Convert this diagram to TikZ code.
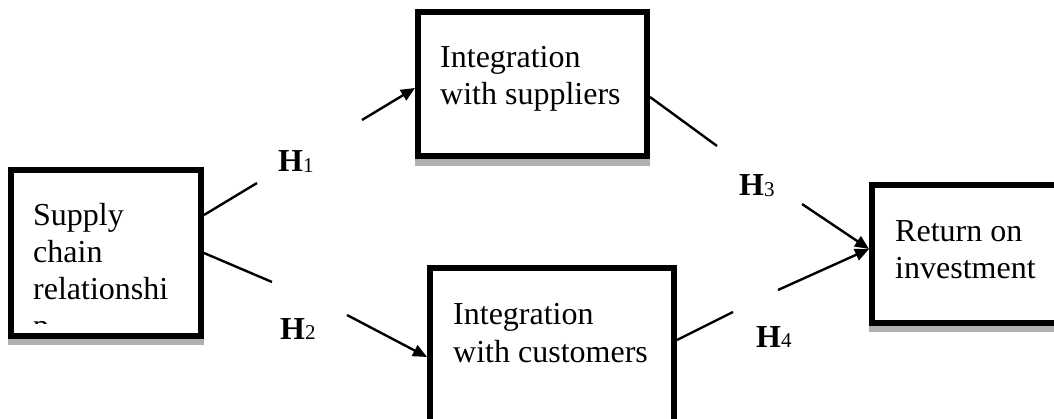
\documentclass[tikz,border=0pt]{standalone}
\usepackage{fontspec}
\setmainfont{Liberation Serif}
\usetikzlibrary{arrows.meta}
\definecolor{shadowgray}{HTML}{B0B0B0}
\begin{document}
\begin{tikzpicture}[x=1pt,y=-1pt,
  box/.style={draw=black, line width=6pt, fill=white, rectangle, inner sep=0pt},
  txt/.style={anchor=base west, inner sep=0pt, font=\fontsize{32}{37}\selectfont},
  hyp/.style={anchor=base west, inner sep=0pt, font=\fontsize{32}{37}\selectfont\bfseries},
  conn/.style={line width=2.4pt},
  arr/.style={conn, -{Triangle[length=14pt,width=12pt]}},
  shadowbar/.style={fill=shadowgray, draw=none}]
\useasboundingbox (0,0) rectangle (1054,419);
\newcommand{\sub}[1]{{\fontsize{21}{21}\selectfont\mdseries\raisebox{-1pt}{#1}}}

% boxes
\node[box, minimum width=190pt, minimum height=166pt] (b1) at (106,253) {};
\node[box, minimum width=229pt, minimum height=144pt] (b2) at (532.5,84) {};
\node[box, minimum width=244pt, minimum height=169pt] (b3) at (552,352.5) {};
\node[box, minimum width=205pt, minimum height=138pt] (b4) at (974.5,254) {};

% shadows
\fill[shadowbar] (b1.south west) rectangle ([yshift=-6pt]b1.south east);
\fill[shadowbar] (b2.south west) rectangle ([yshift=-7pt]b2.south east);
\fill[shadowbar] (b4.south west) rectangle ([yshift=-6pt]b4.south east);

% texts
\begin{scope}
\clip (14,173) rectangle (198,323.5);
\node[txt] (t1) at (33,226) {\begin{tabular}[t]{@{}l@{}}Supply\\chain\\relationshi\\p\end{tabular}};
\end{scope}
\node[txt] (t2) at (440,68) {\begin{tabular}[t]{@{}l@{}}Integration\\with suppliers\end{tabular}};
\node[txt] (t3) at (453,325) {\begin{tabular}[t]{@{}l@{}}Integration\\with customers\end{tabular}};
\node[txt] (t4) at (895,242) {\begin{tabular}[t]{@{}l@{}}Return on\\investment\end{tabular}};

% hypothesis labels
\node[hyp] (h1) at (278,172) {H\sub{1}};
\node[hyp] (h2) at (280,339) {H\sub{2}};
\node[hyp] (h3) at (739,196) {H\sub{3}};
\node[hyp] (h4) at (756,347) {H\sub{4}};

% gap end points
\coordinate (g1a) at (257,183);
\coordinate (g1b) at (362,120);
\coordinate (g2a) at (272,282);
\coordinate (g2b) at (347,315);
\coordinate (g3a) at (717,146);
\coordinate (g3b) at (802,204);
\coordinate (g4a) at (733,312);
\coordinate (g4b) at (778,290);

% connectors
\draw[conn] ([yshift=38pt]b1.east) -- (g1a);
\draw[arr] (g1b) -- ([yshift=-4pt]b2.west);
\draw[conn] (b1.east) -- (g2a);
\draw[arr] (g2b) -- ([yshift=-4.5pt]b3.west);
\draw[conn] ([yshift=-13pt]b2.east) -- (g3a);
\draw[arr] (g3b) -- ([yshift=5pt]b4.west);
\draw[conn] ([yshift=12.5pt]b3.east) -- (g4a);
\draw[arr] (g4b) -- ([yshift=5pt]b4.west);
\end{tikzpicture}
\end{document}
